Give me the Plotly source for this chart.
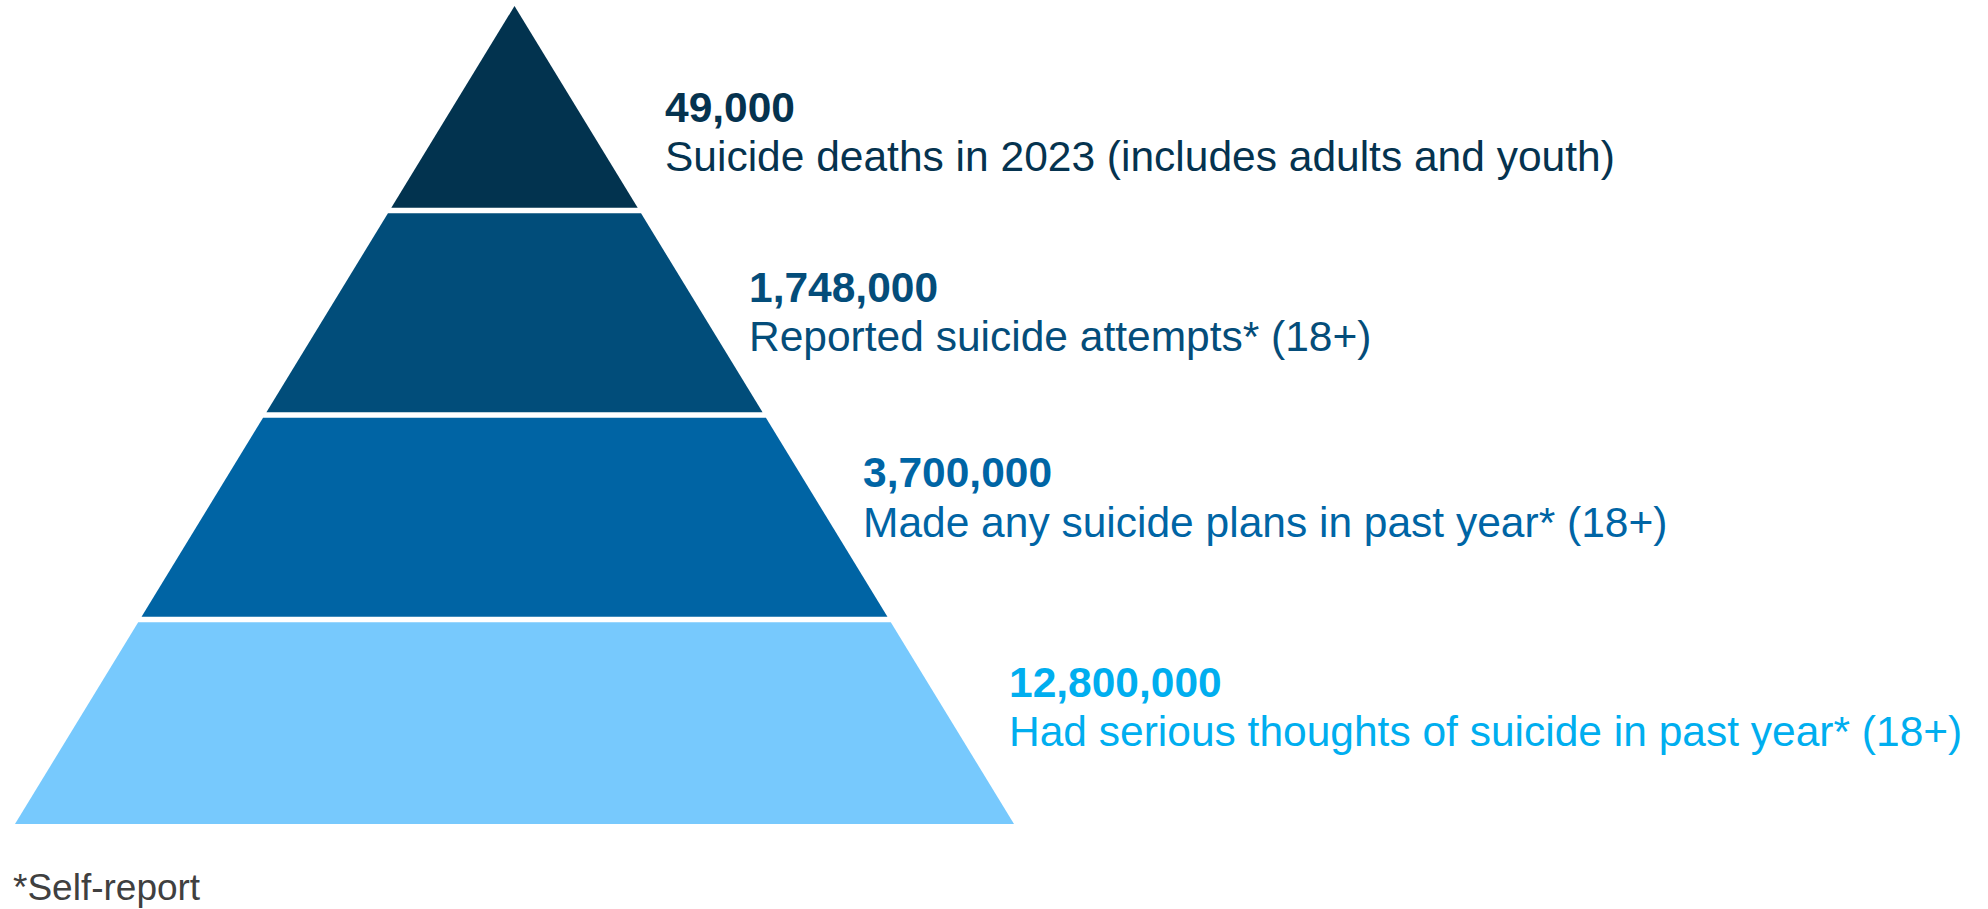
import plotly.graph_objects as go

# ---------------- data ----------------
tier_labels = [
    "Suicide deaths in 2023 (includes adults and youth)",
    "Reported suicide attempts* (18+)",
    "Made any suicide plans in past year* (18+)",
    "Had serious thoughts of suicide in past year* (18+)",
]
tier_counts = [49000, 1748000, 3700000, 12800000]
footnote = "*Self-report"

# ---------------- styles ----------------
fill_colors = ["#02334F", "#014D7A", "#0064A4", "#77C9FD"]
text_colors = ["#05334F", "#044D7A", "#0065A5", "#00AEEF"]
FONT = "Liberation Sans, Arial, sans-serif"
W, H = 1988, 909

# label layout (pixel positions of text)
label_x_px = [663, 747, 861, 1007]
number_y_px = [107, 287, 472, 682]
desc_y_px = [156.5, 336, 522, 731.5]

n = len(tier_counts)
gap = 0.0269  # white gap between tiers, in data units

fig = go.Figure()
for i, (lab, val) in enumerate(zip(tier_labels, tier_counts)):
    # tier i (0 = top) spans y in [n-i-1, n-i]; half width = (n - y)/n
    y0 = n - i - 1
    y1 = n - i
    yb = y0 + (gap / 2 if i < n - 1 else 0)
    yt = y1 - (gap / 2 if i > 0 else 0)
    hb = (n - yb) / n
    ht = (n - yt) / n
    fig.add_trace(go.Scatter(
        x=[-hb, hb, ht, -ht, -hb],
        y=[yb, yb, yt, yt, yb],
        fill="toself", fillcolor=fill_colors[i],
        line=dict(width=0, color=fill_colors[i]),
        mode="lines", hoverinfo="skip", showlegend=False,
        name=lab,
    ))
    fig.add_annotation(
        x=label_x_px[i] / W, y=1 - number_y_px[i] / H,
        xref="paper", yref="paper", xanchor="left", yanchor="middle",
        text=f"<b>{val:,}</b>", showarrow=False,
        font=dict(family=FONT, size=42.5, color=text_colors[i]),
    )
    fig.add_annotation(
        x=label_x_px[i] / W, y=1 - desc_y_px[i] / H,
        xref="paper", yref="paper", xanchor="left", yanchor="middle",
        text=lab, showarrow=False,
        font=dict(family=FONT, size=42.5, color=text_colors[i]),
    )

fig.add_annotation(
    x=11 / W, y=1 - 887 / H, xref="paper", yref="paper",
    xanchor="left", yanchor="middle", text=footnote, showarrow=False,
    font=dict(family=FONT, size=37, color="#404040"),
)

fig.update_layout(
    width=W, height=H,
    margin=dict(l=0, r=0, t=0, b=0),
    paper_bgcolor="white", plot_bgcolor="white",
    xaxis=dict(range=[-1.0300, 2.9499], visible=False, fixedrange=True),
    yaxis=dict(range=[-0.4156, 4.0293], visible=False, fixedrange=True),
    hovermode=False,
)

fig.write_html(
    "out.html",
    config={"displayModeBar": False},
    post_script="document.body.style.margin='0';document.body.style.overflow='hidden';",
)
